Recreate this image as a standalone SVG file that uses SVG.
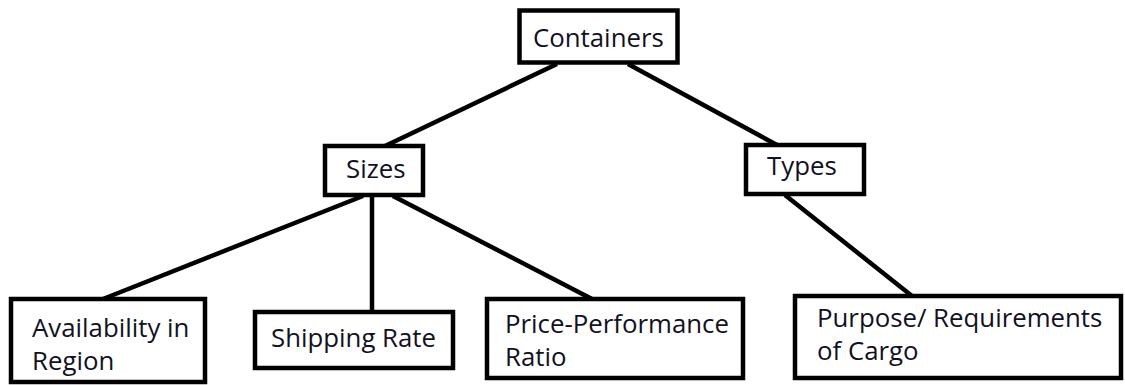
<svg xmlns="http://www.w3.org/2000/svg" width="1125" height="385" viewBox="0 0 1125 385">
  <style>
    .box { fill: #ffffff; stroke: #000000; stroke-width: 4.5; }
    .edge { stroke: #000000; stroke-width: 4.5; fill: none; }
    .label { font-family: "Open Sans", "Noto Sans", sans-serif; font-size: 25.8px; fill: #111122; }
  </style>
  <rect width="1125" height="385" fill="#ffffff"/>

  <!-- connectors between parent and child nodes -->
  <g id="connectors">
    <line class="edge" x1="557" y1="64" x2="385" y2="146"/>
    <line class="edge" x1="628" y1="64" x2="777" y2="145"/>
    <line class="edge" x1="363" y1="196" x2="103" y2="299"/>
    <line class="edge" x1="372" y1="196" x2="372" y2="312"/>
    <line class="edge" x1="393" y1="196" x2="592" y2="299"/>
    <line class="edge" x1="785" y1="195" x2="912" y2="296"/>
  </g>

  <g id="node-containers">
    <rect class="box" x="519.5" y="10.5" width="158" height="52"/>
    <text class="label" x="533" y="47">Containers</text>
  </g>

  <g id="node-sizes">
    <rect class="box" x="325" y="146" width="98" height="49"/>
    <text class="label" x="346" y="178">Sizes</text>
  </g>

  <g id="node-types">
    <rect class="box" x="746" y="145" width="118" height="49"/>
    <text class="label" x="767" y="175">Types</text>
  </g>

  <g id="node-availability">
    <rect class="box" x="11" y="299" width="194" height="83"/>
    <text class="label" x="32" y="337">Availability in</text>
    <text class="label" x="32" y="370">Region</text>
  </g>

  <g id="node-shipping">
    <rect class="box" x="255" y="312" width="198" height="56"/>
    <text class="label" x="271" y="347">Shipping Rate</text>
  </g>

  <g id="node-price">
    <rect class="box" x="487" y="299" width="256" height="79"/>
    <text class="label" x="505" y="333">Price-Performance</text>
    <text class="label" x="505" y="366">Ratio</text>
  </g>

  <g id="node-purpose">
    <rect class="box" x="795" y="296" width="326" height="82"/>
    <text class="label" x="817" y="327">Purpose/ Requirements</text>
    <text class="label" x="817" y="360">of Cargo</text>
  </g>
</svg>
